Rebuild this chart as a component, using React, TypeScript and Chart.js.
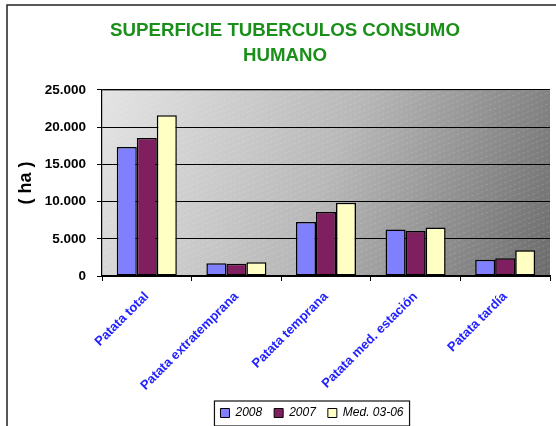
import React, { useEffect, useRef } from "react";
import { Chart, registerables } from "chart.js";

Chart.register(...registerables);

const categories = [
  "Patata total",
  "Patata extratemprana",
  "Patata temprana",
  "Patata med. estación",
  "Patata tardía",
];
const seriesNames = ["2008", "2007", "Med. 03-06"];
const values2008 = [17350, 1700, 7250, 6250, 2200];
const values2007 = [18550, 1650, 8600, 6050, 2400];
const valuesMed = [21600, 1850, 9850, 6500, 3450];
const yTicks = [0, 5000, 10000, 15000, 20000, 25000];

const FONT = "Arial, 'Liberation Sans', sans-serif";

const fmt = (v: number) => String(v).replace(/\B(?=(\d{3})+(?!\d))/g, ".");

const framePlugin = {
  id: "framePlugin",
  afterLayout(chart: any) {
    const lg = chart.legend;
    if (lg) {
      lg.left += 33;
      lg.right += 33;
      lg.top += 3;
      lg.bottom += 3;
    }
    const tb = chart.titleBlock;
    if (tb) {
      tb.left += 6;
      tb.right += 6;
    }
  },
  beforeDraw(chart: any) {
    const { ctx, chartArea } = chart;
    ctx.save();
    ctx.fillStyle = "#ffffff";
    ctx.fillRect(0, 0, chart.width, chart.height);
    ctx.strokeStyle = "#222222";
    ctx.lineWidth = 1.5;
    ctx.beginPath();
    ctx.moveTo(7, chart.height);
    ctx.lineTo(7, 5);
    ctx.lineTo(chart.width, 5);
    ctx.stroke();
    const { left, top, right, bottom } = chartArea;
    const g = ctx.createLinearGradient(left, top, right, bottom);
    g.addColorStop(0, "#e4e4e4");
    g.addColorStop(0.5, "#b8b8b8");
    g.addColorStop(1, "#6c6c6c");
    ctx.fillStyle = g;
    ctx.fillRect(left, top, right - left, bottom - top);
    ctx.beginPath();
    ctx.rect(left, top, right - left, bottom - top);
    ctx.clip();
    ctx.strokeStyle = "rgba(255,255,255,0.15)";
    ctx.lineWidth = 1;
    ctx.setLineDash([3, 2]);
    const h = bottom - top;
    for (let x = left - h * 3; x < right; x += 14) {
      ctx.beginPath();
      ctx.moveTo(x, bottom);
      ctx.lineTo(x + h * 2.5, top);
      ctx.stroke();
    }
    ctx.setLineDash([]);
    ctx.restore();
    ctx.save();
    ctx.strokeStyle = "#8a8a8a";
    ctx.lineWidth = 1;
    ctx.beginPath();
    ctx.moveTo(left, top + 0.5);
    ctx.lineTo(right, top + 0.5);
    ctx.stroke();
    ctx.restore();
  },
  afterDraw(chart: any) {
    const legend = chart.legend;
    if (!legend || !legend.legendHitBoxes || !legend.legendHitBoxes.length) return;
    const boxes = legend.legendHitBoxes;
    let l = Infinity, r = -Infinity, t = Infinity, b = -Infinity;
    boxes.forEach((bx: any) => {
      l = Math.min(l, bx.left);
      r = Math.max(r, bx.left + bx.width);
      t = Math.min(t, bx.top);
      b = Math.max(b, bx.top + bx.height);
    });
    const { ctx } = chart;
    ctx.save();
    ctx.strokeStyle = "#111111";
    ctx.lineWidth = 1.2;
    ctx.strokeRect(l - 6, t - 6, r - l + 12, b - t + 13);
    ctx.restore();
  },
};

export default function App() {
  const canvasRef = useRef<HTMLCanvasElement | null>(null);

  useEffect(() => {
    if (!canvasRef.current) return;
    const mk = (label: string, data: number[], color: string) => ({
      label,
      data,
      backgroundColor: color,
      borderColor: "#000000",
      borderWidth: 1.5,
      borderSkipped: false as any,
      categoryPercentage: 0.67,
      barPercentage: 1,
    });
    const chart = new Chart(canvasRef.current, {
      type: "bar",
      data: {
        labels: categories,
        datasets: [
          mk(seriesNames[0], values2008, "#8080ff"),
          mk(seriesNames[1], values2007, "#801f5f"),
          mk(seriesNames[2], valuesMed, "#ffffc4"),
        ],
      },
      plugins: [framePlugin],
      options: {
        animation: false,
        responsive: true,
        maintainAspectRatio: false,
        layout: { padding: { left: 8, right: 20, top: 0, bottom: 0 } },
        plugins: {
          title: {
            display: true,
            text: ["SUPERFICIE TUBERCULOS CONSUMO", "HUMANO"],
            color: "#1a8f1a",
            font: { family: FONT, size: 18.7, weight: "bold", lineHeight: 1.33 },
            padding: { top: 18.5, bottom: 21.7 },
          },
          legend: {
            position: "bottom",
            labels: {
              boxWidth: 9,
              boxHeight: 9,
              padding: 12,
              color: "#000000",
              font: { family: FONT, size: 12, style: "italic" },
              generateLabels: (ch: any) =>
                ch.data.datasets.map((ds: any, i: number) => ({
                  text: ds.label,
                  fillStyle: ds.backgroundColor,
                  strokeStyle: "#000000",
                  lineWidth: 1,
                  datasetIndex: i,
                  hidden: false,
                  fontColor: "#000000",
                })),
            },
          },
          tooltip: { enabled: false },
        },
        scales: {
          x: {
            grid: {
              display: true,
              drawOnChartArea: false,
              drawTicks: true,
              tickLength: 5,
              color: "#000000",
              offset: true,
            },
            border: { color: "#000000", width: 1.2 },
            ticks: {
              color: "#1f1fff",
              font: { family: FONT, size: 13, weight: "bold" },
              minRotation: 45,
              maxRotation: 45,
              padding: 8,
              autoSkip: false,
            },
            afterFit: (scale: any) => {
              scale.height = 116;
            },
          },
          y: {
            min: 0,
            max: 25000,
            afterBuildTicks: (scale: any) => {
              scale.ticks = yTicks.map((v) => ({ value: v }));
            },
            grid: {
              color: "#000000",
              lineWidth: 1,
              tickLength: 5,
            },
            border: { color: "#000000", width: 1.2 },
            ticks: {
              color: "#000000",
              font: { family: FONT, size: 13.5, weight: "bold" },
              padding: 11,
              callback: (v: any) => fmt(Number(v)),
            },
            title: {
              display: true,
              text: "( ha )",
              color: "#000000",
              font: { family: FONT, size: 18, weight: "bold" },
              padding: { top: 7, bottom: 0 },
            },
            afterFit: (scale: any) => {
              scale.width = 94;
            },
          },
        },
      },
    });
    return () => chart.destroy();
  }, []);

  return (
    <div
      style={{
        position: "fixed",
        left: 0,
        top: 0,
        width: 556,
        height: 426,
        overflow: "hidden",
        background: "#ffffff",
      }}
    >
      <div style={{ position: "absolute", left: 0, top: 0, width: 570, height: 426 }}>
        <canvas ref={canvasRef} />
      </div>
    </div>
  );
}
